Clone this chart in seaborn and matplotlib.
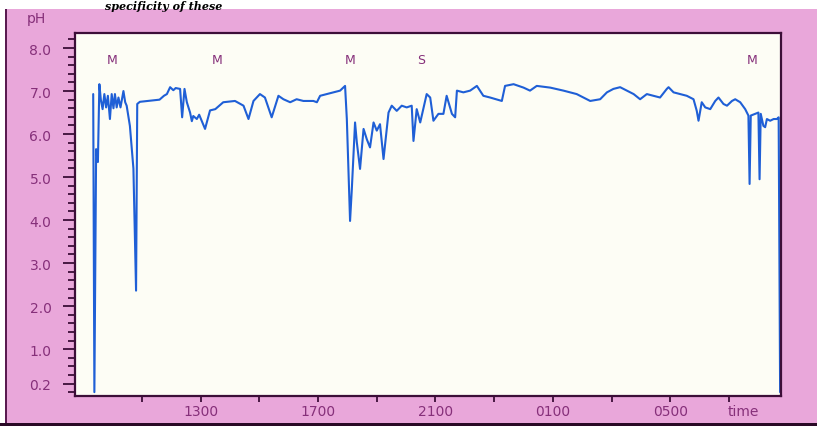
import numpy as np
import pandas as pd
import matplotlib.pyplot as plt
import seaborn as sns
from matplotlib.patches import Rectangle

# clock time in hours (values above 24 are the next morning)
hours = [9.34, 9.38, 9.44, 9.50, 9.55, 9.60, 9.66, 9.72, 9.78, 9.84, 9.91, 9.97, 10.03, 10.08, 10.14,
         10.20, 10.27, 10.37, 10.43, 10.48, 10.59, 10.71, 10.80, 10.84, 10.93, 11.20, 11.60, 11.75, 11.85,
         11.96, 12.07, 12.15, 12.30, 12.37, 12.45, 12.53, 12.64, 12.70, 12.75, 12.87, 12.95, 13.15, 13.32,
         13.50, 13.77, 14.17, 14.46, 14.63, 14.80, 15.02, 15.19, 15.42, 15.65, 15.82, 16.05, 16.27, 16.50,
         16.84, 16.96, 17.07, 17.30, 17.52, 17.75, 17.92,
         17.98, 18.09, 18.15, 18.26, 18.32, 18.43, 18.55, 18.66, 18.77, 18.89, 19.00, 19.11, 19.23, 19.40,
         19.51, 19.68, 19.85, 20.02, 20.19, 20.25, 20.36, 20.48, 20.70, 20.82, 20.93, 21.10, 21.27, 21.38,
         21.56, 21.67, 21.73, 21.95, 22.18, 22.41, 22.63, 22.86, 23.26, 23.37, 23.66, 24.00, 24.22, 24.45,
         24.91, 25.36, 25.81, 26.27,
         26.61, 26.84, 27.06, 27.29, 27.52, 27.75, 27.97, 28.20, 28.43, 28.65, 28.88, 28.94, 29.11, 29.34,
         29.56, 29.79, 29.90, 29.96, 30.07, 30.19, 30.36, 30.53, 30.64, 30.81, 30.93, 31.10, 31.21, 31.38,
         31.55, 31.66, 31.70, 31.74, 31.89, 32.00, 32.04, 32.08, 32.17, 32.23, 32.29, 32.40, 32.52, 32.63,
         32.69, 32.74]
ph = [6.93, 0.00, 5.65, 5.35, 7.16, 6.80, 6.58, 6.93, 6.62, 6.89, 6.35, 6.93, 6.60, 6.93, 6.62,
      6.85, 6.62, 7.00, 6.74, 6.66, 6.19, 5.20, 2.36, 6.70, 6.75, 6.77, 6.80, 6.89, 6.93,
      7.09, 7.02, 7.07, 7.05, 6.39, 7.05, 6.74, 6.50, 6.30, 6.42, 6.35, 6.45, 6.12, 6.55,
      6.58, 6.74, 6.77, 6.66, 6.35, 6.77, 6.93, 6.85, 6.39, 6.89, 6.81, 6.74, 6.81, 6.77,
      6.77, 6.74, 6.89, 6.93, 6.97, 7.01, 7.12,
      6.35, 3.98, 4.72, 6.27, 5.81, 5.19, 6.12, 5.88, 5.69, 6.27, 6.08, 6.23, 5.42, 6.50,
      6.66, 6.54, 6.66, 6.62, 6.66, 5.84, 6.58, 6.27, 6.93, 6.85, 6.31, 6.47, 6.47, 6.89,
      6.47, 6.39, 7.01, 6.97, 7.01, 7.12, 6.89, 6.85, 6.77, 7.12, 7.16, 7.08, 7.01, 7.12,
      7.08, 7.01, 6.93, 6.77,
      6.81, 6.97, 7.05, 7.09, 7.01, 6.93, 6.81, 6.93, 6.89, 6.85, 7.05, 7.09, 6.97, 6.93,
      6.89, 6.81, 6.54, 6.31, 6.74, 6.62, 6.58, 6.77, 6.85, 6.70, 6.66, 6.77, 6.81, 6.74,
      6.58, 6.43, 4.84, 6.43, 6.47, 6.50, 4.95, 6.47, 6.19, 6.16, 6.35, 6.31, 6.35, 6.35,
      6.39, 0.00]

event_labels = ['M', 'M', 'M', 'S', 'M']
event_hours = [10.0, 13.55, 18.1, 20.5, 31.8]

x_ticks = [11, 13, 15, 17, 19, 21, 23, 25, 27, 29, 31]
x_labels = ['', '1300', '', '1700', '', '2100', '', '0100', '', '0500', '']
y_ticks = [0.2, 1, 2, 3, 4, 5, 6, 7, 8]
y_labels = ['0.2', '1.0', '2.0', '3.0', '4.0', '5.0', '6.0', '7.0', '8.0']

df = pd.DataFrame({'time': hours, 'pH': ph})

pink = '#e9a7da'
purple = '#86307a'
dark = '#3c0e38'

sns.set_style('ticks')
plt.rcParams['font.family'] = ['DejaVu Sans']

fig = plt.figure(figsize=(8.17, 4.27), dpi=100, facecolor='white')
fig.patches.append(Rectangle((7/817, 3/427), 1, 1 - 13/427, transform=fig.transFigure,
                             facecolor=pink, edgecolor='none', zorder=-10))
fig.patches.append(Rectangle((5/817, 0), 2/817, 1 - 10/427, transform=fig.transFigure,
                             facecolor='#5a1a50', edgecolor='none', zorder=-10))
fig.patches.append(Rectangle((0, 0), 1, 3/427, transform=fig.transFigure,
                             facecolor='#2a0a26', edgecolor='none', zorder=-10))
fig.text(105/817, 1 - 1/427, 'specificity of these', fontsize=8, fontweight='bold',
         style='italic', family='DejaVu Serif', va='top', color='black')

ax = fig.add_axes([75/817, 1 - 397/427, 706/817, 363/427])
ax.set_facecolor('#fdfdf5')
sns.lineplot(data=df, x='time', y='pH', sort=False, estimator=None, color='#1f5fd6',
             linewidth=1.5, ax=ax)

ax.set_xlim(8.72, 32.77)
ax.set_ylim(-0.09, 8.35)
ax.set_xticks(x_ticks)
ax.set_xticklabels(x_labels)
ax.set_yticks(y_ticks)
ax.set_yticklabels(y_labels)
ax.set_yticks(np.arange(0, 8.3, 0.2), minor=True)
ax.set_xlabel('')
ax.set_ylabel('')

for s in ax.spines.values():
    s.set_visible(True)
    s.set_color(dark)
    s.set_linewidth(1.6)

ax.tick_params(axis='y', which='major', direction='out', length=9, width=1.3, color=dark,
               pad=8, labelsize=10, labelcolor=purple)
ax.tick_params(axis='y', which='minor', direction='out', length=5, width=1.3, color=dark)
ax.tick_params(axis='x', which='major', direction='out', length=4, width=1.3, color=dark,
               pad=2, labelsize=10, labelcolor=purple)

for lab, h in zip(event_labels, event_hours):
    ax.text(h, 7.74, lab, fontsize=9, color=purple, ha='center', va='center')

ax.text(31.5, -0.45, 'time', fontsize=10, color=purple, ha='center', va='center')
fig.text(36/817, 1 - 19/427, 'pH', fontsize=10, color=purple, ha='center', va='center')

plt.savefig('out.png', dpi=100, facecolor=fig.get_facecolor())
